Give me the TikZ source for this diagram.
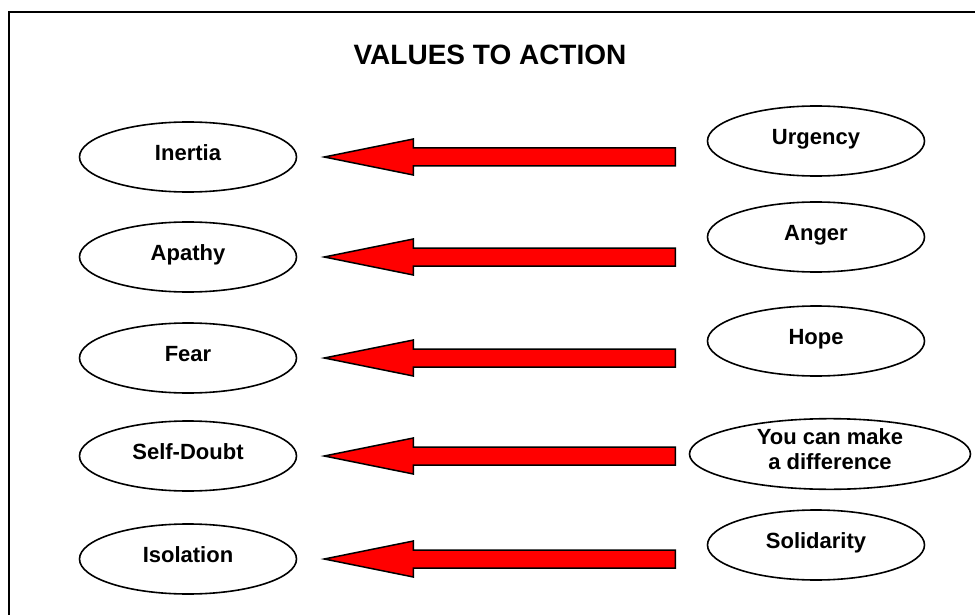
\documentclass[tikz,border=0pt]{standalone}
\usepackage{fontspec}
\setmainfont{Liberation Sans}
\usetikzlibrary{shapes.geometric}

\tikzset{
  feeling/.style={ellipse,draw,line width=1.6pt,inner sep=0pt,
    minimum width=217pt,minimum height=70pt,text depth=9pt,align=center,
    font=\fontsize{22}{25}\selectfont\bfseries},
  pusharrow/.style={draw=black,line width=1.5pt,fill=red,line join=miter}
}

\begin{document}
\begin{tikzpicture}[x=1pt,y=-1pt]%
  \useasboundingbox (0,0) rectangle (975,615);
  \fill[white] (0,0) rectangle (975,615);
  % page frame, only its top left corner is on the sheet
  \draw[line width=2pt] (9,620) |- (980,12);
  \node[font=\fontsize{28}{32}\selectfont\bfseries] (title) at (490,55)
    {VALUES TO ACTION};
  % left column
  \node[feeling] (inertia)   at (188,157) {Inertia};
  \node[feeling] (apathy)    at (188,257) {Apathy};
  \node[feeling] (fear)      at (188,358) {Fear};
  \node[feeling] (selfdoubt) at (188,456) {Self-Doubt};
  \node[feeling] (isolation) at (188,559) {Isolation};
  % right column
  \node[feeling] (urgency)    at (816,141) {Urgency};
  \node[feeling] (anger)      at (816,237) {Anger};
  \node[feeling] (hope)       at (816,341) {Hope};
  \node[feeling,minimum width=281pt,minimum height=68pt] (difference)
    at (830,454) {You can make\\a difference};
  \node[feeling] (solidarity) at (816,545) {Solidarity};
  % block arrows pointing left
  \foreach \n in {inertia,apathy,fear,selfdoubt,isolation}
    \draw[pusharrow] ([xshift=27pt]\n.east) -- ++(89,18) -- ++(0,-9)
      -- ++(262,0) -- ++(0,-18) -- ++(-262,0) -- ++(0,-9) -- cycle;
\end{tikzpicture}
\end{document}
